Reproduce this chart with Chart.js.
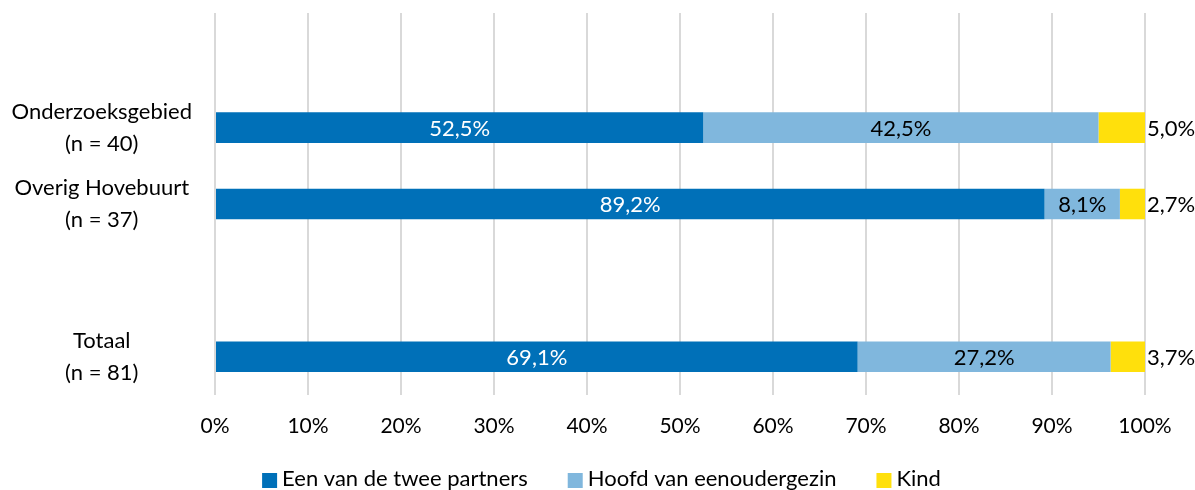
<!DOCTYPE html>
<html>
<head>
<meta charset="utf-8">
<script src="https://cdn.jsdelivr.net/npm/chart.js@4"></script>
<style>
  html, body { margin: 0; padding: 0; background: #fff; }
  #wrap { width: 1195px; height: 490px; }
</style>
</head>
<body>
<div id="wrap"><canvas id="huishoudChart"></canvas></div>
<script>
// categories (empty slots give the gaps Excel leaves)
const categories = [
  '',
  ['Onderzoeksgebied', '(n = 40)'],
  ['Overig Hovebuurt', '(n = 37)'],
  '',
  ['Totaal', '(n = 81)']
]
const partners = [null, 52.5, 89.2, null, 69.1]
const hoofd = [null, 42.5, 8.1, null, 27.2]
const kind = [null, 5.0, 2.7, null, 3.7]
const seriesNames = ['Een van de twee partners', 'Hoofd van eenoudergezin', 'Kind']
const xTicks = [0, 10, 20, 30, 40, 50, 60, 70, 80, 90, 100]

const fontFamily = 'Lato, "Open Sans", sans-serif'

const fmt = v => v.toFixed(1).replace('.', ',') + '%'

// value labels: centred inside the bar, last series just right of it
const barLabels = {
  id: 'barLabels',
  afterDatasetsDraw(chart) {
    const ctx = chart.ctx
    ctx.save()
    ctx.font = '22px ' + fontFamily
    ctx.textBaseline = 'middle'
    chart.data.datasets.forEach((ds, i) => {
      const meta = chart.getDatasetMeta(i)
      meta.data.forEach((bar, j) => {
        const v = ds.data[j]
        if (v == null) return
        if (i === 2) {
          ctx.textAlign = 'left'
          ctx.fillStyle = '#000'
          ctx.fillText(fmt(v), bar.x + 2, bar.y + 1)
        } else {
          ctx.textAlign = 'center'
          ctx.fillStyle = i === 0 ? '#fff' : '#000'
          ctx.fillText(fmt(v), (bar.x + bar.base) / 2, bar.y + 1)
        }
      })
    })
    ctx.restore()
  }
}

// legend like Excel: small squares, tight text, drawn in the bottom padding
const bottomLegend = {
  id: 'bottomLegend',
  afterDraw(chart) {
    const ctx = chart.ctx
    const box = 15, gap = 5, spacing = 40
    ctx.save()
    ctx.font = '22px ' + fontFamily
    ctx.textBaseline = 'middle'
    ctx.textAlign = 'left'
    const items = chart.data.datasets.map(ds => ({
      text: ds.label,
      color: ds.backgroundColor,
      w: box + gap + ctx.measureText(ds.label).width
    }))
    const total = items.reduce((s, it) => s + it.w, 0) + spacing * (items.length - 1)
    let x = chart.width / 2 + 4 - total / 2
    const y = 479
    items.forEach(it => {
      ctx.fillStyle = it.color
      ctx.fillRect(x, y - 6, box, box)
      ctx.fillStyle = '#000'
      ctx.fillText(it.text, x + box + gap, y)
      x += it.w + spacing
    })
    ctx.restore()
  }
}

const barSettings = {
  barPercentage: 0.4,
  categoryPercentage: 1,
  borderWidth: 0
}

new Chart(document.querySelector('#huishoudChart'), {
  type: 'bar',
  data: {
    labels: categories,
    datasets: [
      { label: seriesNames[0], data: partners, backgroundColor: '#0070B8', ...barSettings },
      { label: seriesNames[1], data: hoofd, backgroundColor: '#80B7DD', ...barSettings },
      { label: seriesNames[2], data: kind, backgroundColor: '#FFE00C', ...barSettings }
    ]
  },
  plugins: [barLabels, bottomLegend],
  options: {
    indexAxis: 'y',
    responsive: true,
    maintainAspectRatio: false,
    animation: false,
    layout: { padding: { top: 13, right: 50, left: 0, bottom: 50 } },
    plugins: {
      legend: { display: false },
      tooltip: { enabled: false }
    },
    scales: {
      x: {
        stacked: true,
        min: 0,
        max: 100,
        afterBuildTicks(scale) {
          scale.ticks = xTicks.map(v => ({ value: v }))
        },
        afterFit(scale) { scale.height = 45 },
        ticks: {
          color: '#000',
          padding: 19,
          font: { family: fontFamily, size: 21 },
          callback: v => v + '%'
        },
        grid: { color: '#d9d9d9', lineWidth: 2, drawTicks: false },
        border: { display: false }
      },
      y: {
        stacked: true,
        afterFit(scale) {
          scale.width = 215
          scale.paddingTop = 0
          scale.paddingBottom = 0
        },
        ticks: {
          color: '#000',
          padding: 15,
          crossAlign: 'center',
          font: { family: fontFamily, size: 22, lineHeight: 1.45 }
        },
        grid: { display: false },
        border: { display: false }
      }
    }
  }
})
</script>
</body>
</html>
